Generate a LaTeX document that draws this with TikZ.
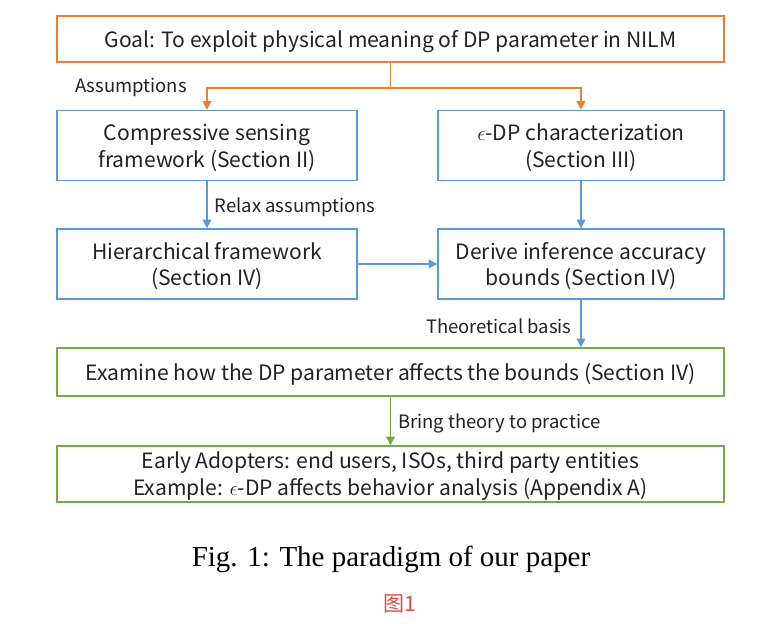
\documentclass[tikz,border=0pt]{standalone}
\usepackage{fontspec}
\setmainfont{Noto Sans CJK SC}
\newfontfamily\capfont{Liberation Serif}
\usepackage{xcolor}
\usetikzlibrary{arrows.meta,positioning}

\definecolor{goalc}{HTML}{ED7D31}
\definecolor{bluec}{HTML}{5B9BD5}
\definecolor{greenc}{HTML}{70AD47}
\definecolor{textc}{HTML}{222222}
\definecolor{redc}{HTML}{DD4B4B}

\begin{document}
\begin{tikzpicture}[
    x=0.02cm, y=-0.02cm,
    box/.style={rectangle, draw, line width=0.8pt, align=center, inner sep=0pt, text=textc,
        text depth=0pt, font=\fontsize{12}{15.3}\selectfont},
    wide/.style={box, minimum width=13.34cm},
    half/.style={box, minimum height=1.4cm},
    lbl/.style={text=textc, font=\fontsize{10.5}{12}\selectfont, inner sep=0pt, yshift=-1.4pt},
    arrow/.style={-{Triangle[length=5pt,width=5pt]}, line width=0.8pt},
]
    \useasboundingbox (0,0) rectangle (781,623);

    \node[wide, draw=goalc, minimum height=0.92cm] (goal) at (390.5,39)
        {Goal: To exploit physical meaning of DP parameter in NILM};
    \node[half, draw=bluec, minimum width=6cm] (cs) at (207,145.5)
        {Compressive sensing\\framework (Section II)};
    \node[half, draw=bluec, minimum width=5.72cm] (edp) at (581,145.5)
        {$\epsilon$-DP characterization\\(Section III)};
    \node[half, draw=bluec, minimum width=6cm] (hier) at (207,264)
        {Hierarchical framework\\(Section IV)};
    \node[half, draw=bluec, minimum width=5.72cm] (bounds) at (581,264)
        {Derive inference accuracy\\bounds (Section IV)};
    \node[wide, draw=greenc, minimum height=0.96cm] (examine) at (390.5,372)
        {Examine how the DP parameter affects the bounds (Section IV)};
    \node[wide, draw=greenc, minimum height=1.12cm] (adopt) at (390.5,474)
        {Early Adopters: end users, ISOs, third party entities\\
         Example: $\epsilon$-DP affects behavior analysis (Appendix A)};

    % fork below the goal
    \coordinate (fork) at (goal.south |- 0,88);
    \draw[goalc, line width=0.8pt] (goal.south) -- (fork);
    \draw[arrow, goalc] (fork) -| (cs.north);
    \draw[arrow, goalc] (fork) -| (edp.north);
    \node[lbl] (assume) at (131,85) {Assumptions};

    \draw[arrow, bluec] (cs) -- (hier)
        node[lbl, midway, right=4pt] (relax) {Relax assumptions};
    \draw[arrow, bluec] (edp) -- (bounds);
    \draw[arrow, bluec] (hier) -- (bounds);
    \draw[arrow, bluec] (bounds.south) -- (bounds.south |- examine.north)
        node[lbl, midway, left=5pt] (basis) {Theoretical basis};
    \draw[arrow, greenc] (examine) -- (adopt)
        node[lbl, midway, right=4pt] (practice) {Bring theory to practice};

    \node[font=\capfont\fontsize{16.5}{19}\selectfont] (caption) at (391,559)
        {Fig. 1: The paradigm of our paper};
    \node[text=redc, font=\fontsize{12}{14}\selectfont] (tag) at (400,604) {图1};
\end{tikzpicture}
\end{document}
